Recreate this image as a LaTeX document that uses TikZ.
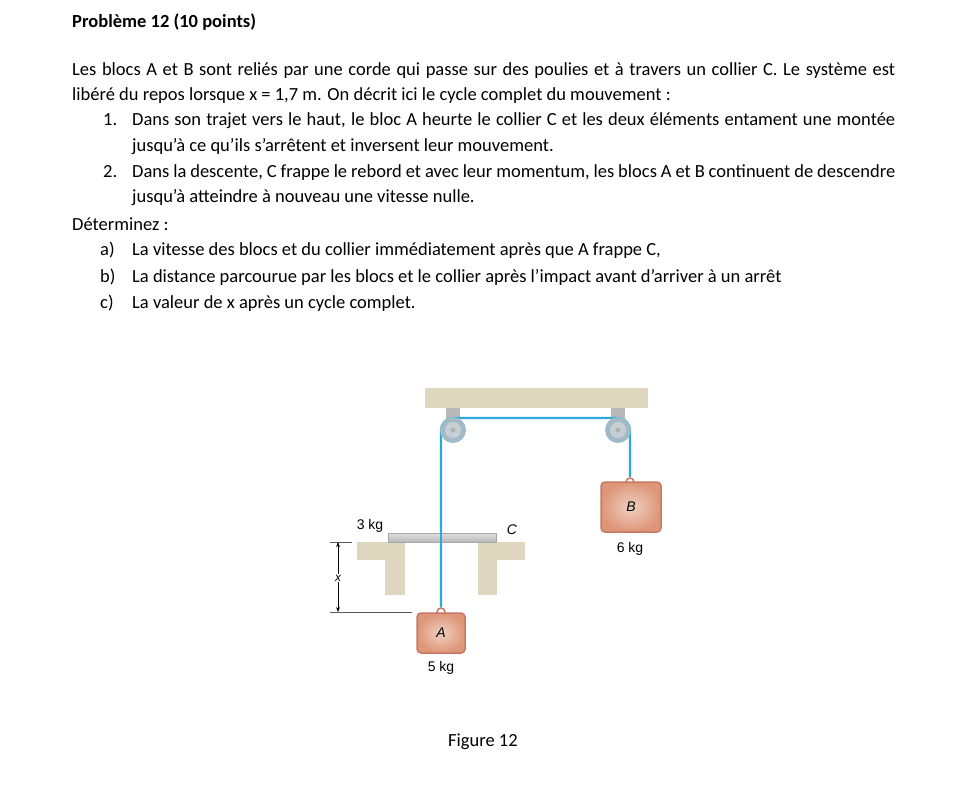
\documentclass[tikz,border=0pt]{standalone}
\usepackage{fontspec}
\setmainfont{Carlito}
\newfontfamily\figfont{Liberation Sans}
\usetikzlibrary{arrows.meta}
\definecolor{rope}{RGB}{40,170,225}
\definecolor{wall}{RGB}{222,214,190}
\definecolor{blk}{RGB}{222,150,120}
\definecolor{blkedge}{RGB}{200,120,100}
\tikzset{txt/.style={anchor=base west,inner sep=0pt,font=\fontsize{18.5}{22}\selectfont},
 lbl/.style={inner sep=0pt,font=\figfont\fontsize{14}{17}\selectfont},
 ropeline/.style={draw=rope,line width=2.2pt},
 block/.style={draw=blkedge,line width=1.5pt,rounded corners=4pt,inner color=blk!45!white,outer color=blk}}
\begin{document}
\begin{tikzpicture}[x=1pt,y=-1pt]
\useasboundingbox (0,0) rectangle (976,807);
\node[txt,font=\bfseries\fontsize{18.5}{22}\selectfont] (t) at (72,27) {Problème 12 (10 points)};
\node[txt] (l1) at (72,75) {\hbox to 823pt{Les blocs A et B sont reliés par une corde qui passe sur des poulies et à travers un collier C. Le système est}};
\node[txt] (l2) at (72,100) {libéré du repos lorsque x = 1,7 m. On décrit ici le cycle complet du mouvement :};
\node[txt] (n1) at (103,125) {1.};
\node[txt] (l3) at (132,125) {\hbox to 763pt{Dans son trajet vers le haut, le bloc A heurte le collier C et les deux éléments entament une montée}};
\node[txt] (l4) at (132,151) {jusqu'à ce qu'ils s'arrêtent et inversent leur mouvement.};
\node[txt] (n2) at (103,177) {2.};
\node[txt] (l5) at (132,177) {\hbox to 763pt{Dans la descente, C frappe le rebord et avec leur momentum, les blocs A et B continuent de descendre}};
\node[txt] (l6) at (132,202) {jusqu’à atteindre à nouveau une vitesse nulle.};
\node[txt] (l7) at (72,230) {Déterminez :};
\node[txt] (na) at (100,255) {a)};
\node[txt] (la) at (132,255) {La vitesse des blocs et du collier immédiatement après que A frappe C,};
\node[txt] (nb) at (100,282) {b)};
\node[txt] (lb) at (132,282) {La distance parcourue par les blocs et le collier après l'impact avant d'arriver à un arrêt};
\node[txt] (nc) at (100,308) {c)};
\node[txt] (lc) at (132,308) {La valeur de x après un cycle complet.};
\node[txt] (fig) at (448,746) {Figure 12};
% ceiling
\fill[wall] (425,388) rectangle (648,408);
% brackets
\fill[gray!55] (446,408) rectangle (460,432);
\fill[gray!55] (611,408) rectangle (625,432);
% rope
\draw[ropeline] (441,607) -- (441,430) arc[start angle=180,end angle=270,radius=12] -- (618,418) arc[start angle=270,end angle=360,radius=12] -- (630,477);
% pulleys
\foreach \p/\cx in {pl/453,pr/618}{
 \fill[rope!35!gray!60] (\cx,430) circle (13);
 \fill[rope!20!gray!40] (\cx,430) circle (8);
 \fill[gray!60] (\cx,430) circle (2.5);
 \coordinate (\p) at (\cx,430);}
% ledges
\fill[wall] (357,542) rectangle (405,560);
\fill[wall] (385,560) rectangle (405,595);
\fill[wall] (478,542) rectangle (525,560);
\fill[wall] (478,560) rectangle (497,595);
% collar
\shade[top color=gray!25,bottom color=gray!55,draw=gray!70] (388,533) rectangle (496,542);
\draw[ropeline] (441,530) -- (441,545);
% blocks
\draw[blkedge,line width=1.5pt] (630,482) circle[radius=4];
\node[block,minimum width=60pt,minimum height=50pt] (B) at (631,507) {\figfont\itshape\fontsize{14}{17}\selectfont B};
\draw[blkedge,line width=1.5pt] (441,612) circle[radius=4];
\node[block,minimum width=48pt,minimum height=40pt] (A) at (441,633) {\figfont\itshape\fontsize{14}{17}\selectfont A};
% labels
\node[lbl] (m3) at (370,526) {3 kg};
\node[lbl,font=\figfont\itshape\fontsize{14}{17}\selectfont] (C) at (512,530) {C};
\node[lbl] (m6) at (630,549) {6 kg};
\node[lbl] (m5) at (441,668) {5 kg};
% dimension
\draw[gray!70!black,thin] (330,542) -- (352,542);
\draw[gray!70!black,thin] (330,612) -- (412,612);
\coordinate (d1) at (338,542);
\coordinate (d2) at (338,612);
\node[lbl,font=\figfont\itshape\fontsize{12}{14}\selectfont,fill=white,inner sep=1pt] (X) at (338,578) {x};
\draw[-{Stealth[length=5pt]},thin] (X) -- (d1);
\draw[-{Stealth[length=5pt]},thin] (X) -- (d2);
\end{tikzpicture}
\end{document}
